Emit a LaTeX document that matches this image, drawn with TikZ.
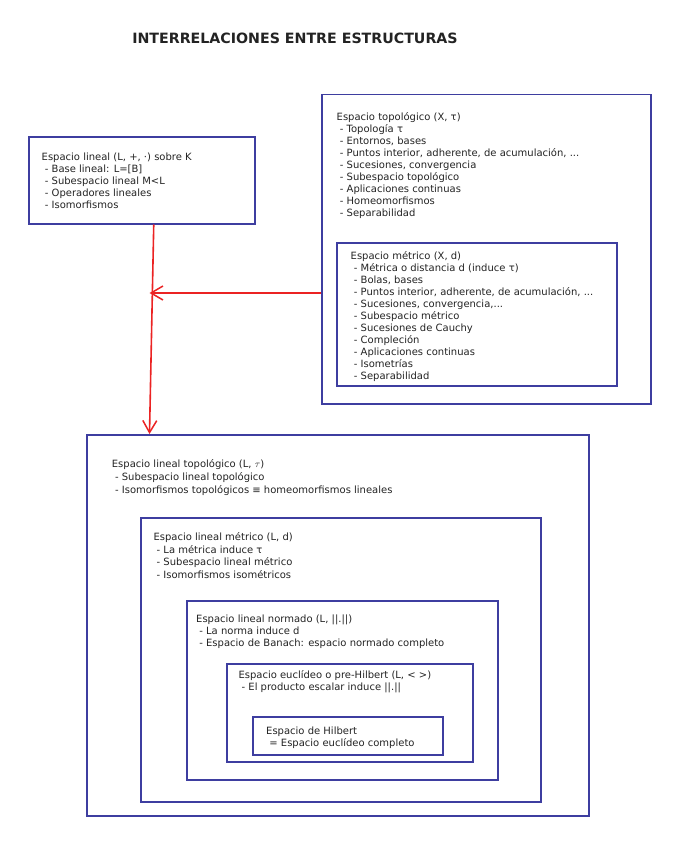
\documentclass[tikz,border=0pt]{standalone}
\usepackage{fontspec}
\setmainfont{DejaVu Sans}
\usetikzlibrary{arrows.meta}
\definecolor{boxblue}{RGB}{62,62,160}
\definecolor{arrred}{RGB}{235,35,35}
\definecolor{txtgray}{RGB}{35,35,35}
\tikzset{
  box/.style={draw=boxblue, line width=1.5pt, inner sep=0pt, anchor=north west},
  boxtext/.style={anchor=north west, inner sep=0pt, align=left, text=txtgray, font=\fontsize{10}{12}\selectfont},
  redarrow/.style={draw=arrred, line width=1.6pt, -{Straight Barb[length=12pt,width=14pt,line width=1.5pt]}}
}
\begin{document}
\begin{tikzpicture}[x=1pt,y=-1pt]
\useasboundingbox (0,0) rectangle (687,856);
\node[font=\fontsize{14.2}{16}\selectfont\bfseries, text=txtgray, inner sep=0pt] (title) at (295,38.5) {INTERRELACIONES ENTRE ESTRUCTURAS};

% boxes
\node[box, minimum width=226pt, minimum height=87pt] (lin) at (28,136) {};
\node[box, minimum width=329pt, minimum height=309pt] (top) at (321,94) {};
\node[box, minimum width=280pt, minimum height=143pt] (met) at (336,242) {};
\node[box, minimum width=502pt, minimum height=381pt] (ltop) at (86,434) {};
\node[box, minimum width=400pt, minimum height=284pt] (lmet) at (140,517) {};
\node[box, minimum width=311pt, minimum height=179pt] (norm) at (186,600) {};
\node[box, minimum width=246pt, minimum height=98pt] (euc) at (226,663) {};
\node[box, minimum width=190pt, minimum height=38pt] (hil) at (252,716) {};

% texts
\node[boxtext] (linT) at (41.5,153) {Espacio lineal (L, +, ·) sobre K\\~- Base lineal: L=[B]\\~- Subespacio lineal M<L\\~- Operadores lineales\\~- Isomorfismos};
\node[boxtext] (topT) at (336.5,112) {Espacio topológico (X, τ)\\~- Topología τ\\~- Entornos, bases\\~- Puntos interior, adherente, de acumulación, ...\\~- Sucesiones, convergencia\\~- Subespacio topológico\\~- Aplicaciones continuas\\~- Homeomorfismos\\~- Separabilidad};
\node[boxtext] (metT) at (350.5,251.4) {Espacio métrico (X, d)\\~- Métrica o distancia d (induce τ)\\~- Bolas, bases\\~- Puntos interior, adherente, de acumulación, ...\\~- Sucesiones, convergencia,...\\~- Subespacio métrico\\~- Sucesiones de Cauchy\\~- Compleción\\~- Aplicaciones continuas\\~- Isometrías\\~- Separabilidad};
\node[boxtext, font=\fontsize{10}{13}\selectfont] (ltopT) at (111.7,459.7) {Espacio lineal topológico (L, $\tau$)\\~- Subespacio lineal topológico\\~- Isomorfismos topológicos ≡ homeomorfismos lineales};
\node[boxtext, font=\fontsize{10}{12.5}\selectfont] (lmetT) at (153.3,532.4) {Espacio lineal métrico (L, d)\\~- La métrica induce τ\\~- Subespacio lineal métrico\\~- Isomorfismos isométricos};
\node[boxtext] (normT) at (196,614.7) {Espacio lineal normado (L, ||.||)\\~- La norma induce d\\~- Espacio de Banach: espacio normado completo};
\node[boxtext] (eucT) at (238.3,670.7) {Espacio euclídeo o pre-Hilbert (L, < >)\\~- El producto escalar induce ||.||};
\node[boxtext] (hilT) at (266,726.4) {Espacio de Hilbert\\~= Espacio euclídeo completo};

% arrows
\coordinate (j) at (149.5,293);
\draw[redarrow] ([xshift=12pt]lin.south) -- (ltop.north -| j);
\draw[redarrow, line width=2pt] (top.west |- j) -- (j);
\end{tikzpicture}
\end{document}
